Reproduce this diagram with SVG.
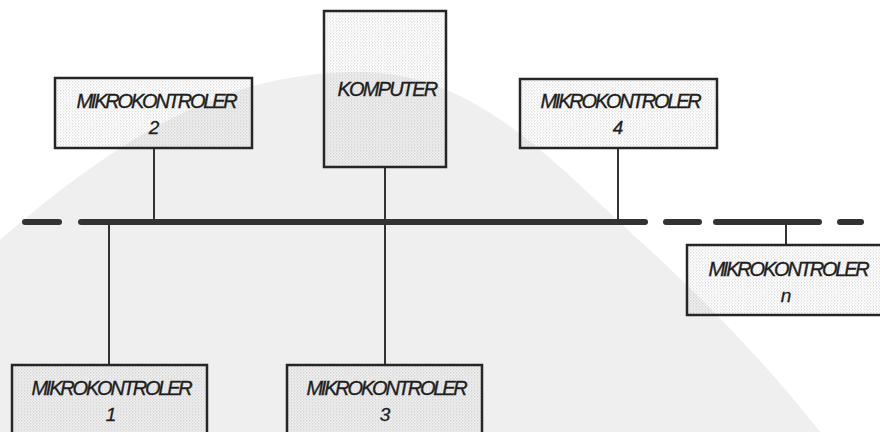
<svg xmlns="http://www.w3.org/2000/svg" width="880" height="432" viewBox="0 0 880 432">
  <defs>
    <pattern id="dots" width="3" height="3" patternUnits="userSpaceOnUse">
      <circle cx="0.8" cy="0.8" r="0.6" fill="#8a8a8a" opacity="0.55"/>
      <circle cx="2.3" cy="2.2" r="0.5" fill="#9a9a9a" opacity="0.4"/>
    </pattern>
  </defs>
  <style>
    .box { fill: url(#dots); stroke: #262626; stroke-width: 2.5; }
    .lbl { font-family: "Liberation Sans", Arial, sans-serif; font-style: italic; font-size: 20px; fill: #1e1e1e; stroke: #1e1e1e; stroke-width: 0.35; text-anchor: middle; letter-spacing: -2.2px; }
    .num { font-family: "Liberation Sans", Arial, sans-serif; font-style: italic; font-size: 19px; fill: #1e1e1e; stroke: #1e1e1e; stroke-width: 0.3; text-anchor: middle; }
    .bus { stroke: #333; stroke-width: 6; stroke-linecap: round; fill: none; }
    .wire { stroke: #333; stroke-width: 2; fill: none; }
  </style>
  <rect width="880" height="432" fill="#ffffff"/>
  <path d="M0,240 C150,110 250,72 360,72 C480,72 560,170 650,250 C720,315 780,380 820,432 L0,432 Z" fill="#efefef"/>

  <g id="connectors">
    <line class="bus" x1="25" y1="222" x2="59" y2="222"/>
    <line class="bus" x1="81" y1="222" x2="645" y2="222"/>
    <line class="bus" x1="666" y1="222" x2="699" y2="222"/>
    <line class="bus" x1="716" y1="222" x2="819" y2="222"/>
    <line class="bus" x1="840" y1="222" x2="861" y2="222"/>
    <line class="wire" x1="154" y1="148" x2="154" y2="222"/>
    <line class="wire" x1="385" y1="167" x2="385" y2="365"/>
    <line class="wire" x1="618" y1="148" x2="618" y2="222"/>
    <line class="wire" x1="109" y1="222" x2="109" y2="365"/>
    <line class="wire" x1="786" y1="222" x2="786" y2="245"/>
  </g>

  <g id="mk2">
    <rect class="box" x="55" y="78" width="197" height="70"/>
    <text class="lbl" x="156" y="108">MIKROKONTROLER</text>
    <text class="num" x="154" y="134">2</text>
  </g>
  <g id="komputer">
    <rect class="box" x="324" y="11" width="122" height="156"/>
    <text class="lbl" x="387" y="96" style="letter-spacing:-1.8px">KOMPUTER</text>
  </g>
  <g id="mk4">
    <rect class="box" x="520" y="79" width="197" height="69"/>
    <text class="lbl" x="620" y="108">MIKROKONTROLER</text>
    <text class="num" x="618" y="134">4</text>
  </g>
  <g id="mkn">
    <rect class="box" x="687" y="245" width="200" height="70"/>
    <text class="lbl" x="788" y="276">MIKROKONTROLER</text>
    <text class="num" x="786" y="302">n</text>
  </g>
  <g id="mk1">
    <rect class="box" x="12" y="365" width="195" height="80"/>
    <text class="lbl" x="111" y="395">MIKROKONTROLER</text>
    <text class="num" x="111" y="421">1</text>
  </g>
  <g id="mk3">
    <rect class="box" x="287" y="365" width="195" height="80"/>
    <text class="lbl" x="386" y="395">MIKROKONTROLER</text>
    <text class="num" x="385" y="421">3</text>
  </g>
</svg>
